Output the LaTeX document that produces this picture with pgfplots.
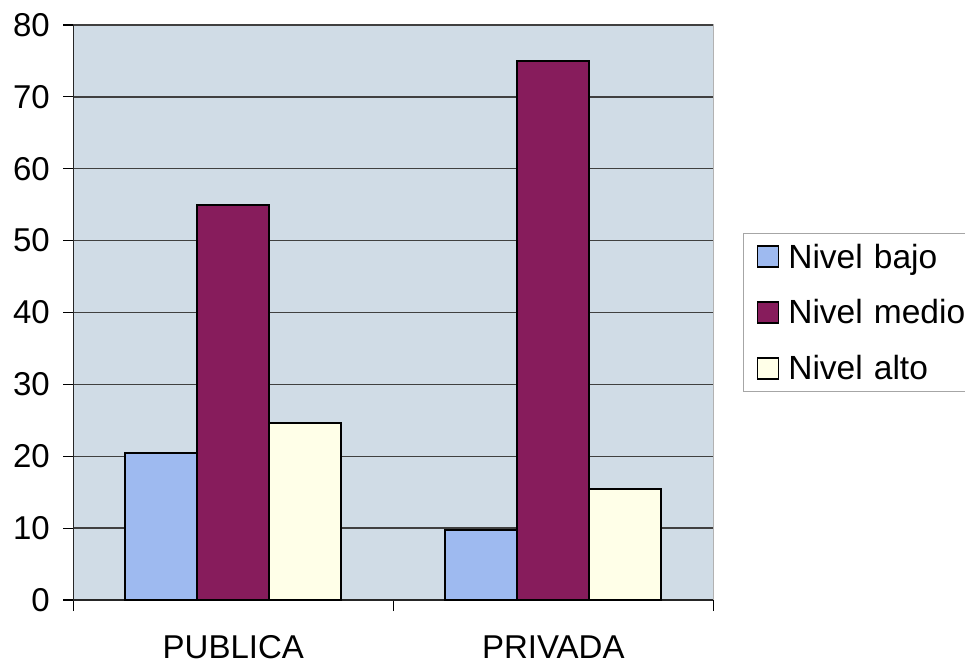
\documentclass[border=0pt]{standalone}
\usepackage{fontspec}
\setmainfont{Liberation Sans}
\usepackage{pgfplots}
\pgfplotsset{compat=1.18}
\definecolor{bgc}{RGB}{208,220,230}
\definecolor{bajo}{RGB}{158,186,240}
\definecolor{medio}{RGB}{135,28,92}
\definecolor{alto}{RGB}{255,255,232}
\begin{document}
\begin{tikzpicture}
\begin{axis}[
  at={(73.3pt,67pt)}, anchor=south west,
  width=640pt, height=575pt, scale only axis,
  xmin=-0.5, xmax=1.5, ymin=0, ymax=80,
  ytick={0,10,...,80},
  xtick={0,1}, xticklabels={PUBLICA,PRIVADA},
  minor xtick={-0.5,0.5,1.5},
  major x tick style={draw=none},
  tick align=outside,
  major tick length=10pt, minor tick length=11pt,
  tick style={black, line width=1.2pt},
  axis x line*=bottom, axis y line*=left,
  axis line style={-, line width=1.5pt, black!85},
  ymajorgrids,
  major grid style={black!75, line width=1.4pt},
  axis background/.style={fill=bgc, draw=gray!60, line width=1pt},
  ybar=0pt, bar width=0.225,
  tick label style={font=\fontsize{33}{39}\selectfont, /pgf/number format/assume math mode=true},
  yticklabel style={xshift=-10pt},
  xticklabel style={yshift=-22pt},
  legend style={at={(1,0.5)}, anchor=west, xshift=30pt, draw=gray!70, line width=1pt, fill=white,
    font=\fontsize{33.5}{39}\selectfont, row sep=30pt, column sep=9pt, inner xsep=13pt, inner ysep=10pt,
    nodes={text width=185pt, inner sep=0pt}},
  legend cell align=left,
  legend image code/.code={\draw[#1, draw=black, line width=1.5pt] (0pt,-10.5pt) rectangle (21pt,10.5pt);},
]
\addplot[fill=bajo, draw=black, line width=2pt] coordinates {(0,20.4) (1,9.7)};
\addplot[fill=medio, draw=black, line width=2pt] coordinates {(0,55) (1,75)};
\addplot[fill=alto, draw=black, line width=2pt] coordinates {(0,24.6) (1,15.4)};
\legend{Nivel bajo, Nivel medio, Nivel alto}
\end{axis}
\pgfresetboundingbox
\useasboundingbox (0,0) rectangle (965pt,667pt);
\end{tikzpicture}
\end{document}
